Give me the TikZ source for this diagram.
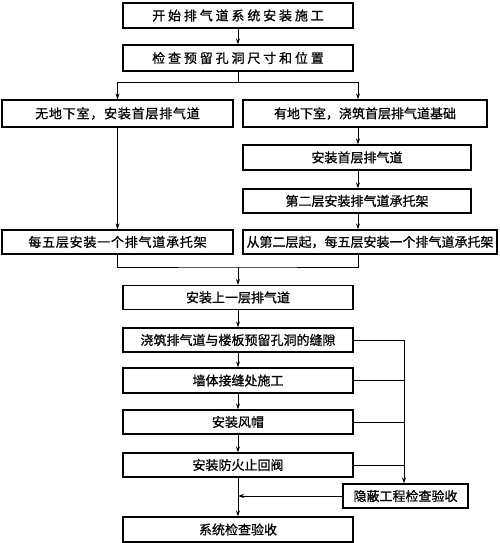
\documentclass[tikz,border=0pt]{standalone}
\usepackage{fontspec}
\newfontfamily\cjk[FakeBold=0.8]{Noto Sans CJK SC}
\newfontfamily\cjkw[LetterSpace=22,FakeBold=0.8]{Noto Sans CJK SC}
\newfontfamily\cjkm[LetterSpace=6,FakeBold=0.8]{Noto Sans CJK SC}
\usetikzlibrary{arrows.meta}
\begin{document}
\begin{tikzpicture}[x=1pt,y=-1pt,
  box/.style={draw,line width=1.3pt,inner sep=0pt,minimum height=24pt,font=\cjk\fontsize{13}{15}\selectfont},
  wbox/.style={box,font=\cjkw\fontsize{13}{15}\selectfont},
  mbox/.style={box,font=\cjkm\fontsize{13}{15}\selectfont},
  conn/.style={line width=0.8pt},
  arr/.style={conn,-{Stealth[length=6pt,width=4pt]}}]
\useasboundingbox (0,0) rectangle (500,543);
\node[wbox,minimum width=230pt,minimum height=25pt] (c1) at (238,15.5) {开始排气道系统安装施工};
\node[wbox,minimum width=230pt,minimum height=26pt] (c2) at (238,58) {检查预留孔洞尺寸和位置};
\node[mbox,minimum width=231pt,minimum height=27pt] (l1) at (117.5,113.5) {无地下室，安装首层排气道};
\node[box,minimum width=244pt,minimum height=27pt] (r1) at (365,113.5) {有地下室，浇筑首层排气道基础};
\node[box,minimum width=228pt,minimum height=25pt] (r2) at (357,157.5) {安装首层排气道};
\node[box,minimum width=228pt] (r3) at (357,201) {第二层安装排气道承托架};
\node[mbox,minimum width=231pt] (l4) at (117.5,242) {每五层安装一个排气道承托架};
\node[box,minimum width=254pt] (r4) at (370,242) {从第二层起，每五层安装一个排气道承托架};
\node[box,minimum width=230pt] (c3) at (238,297.5) {安装上一层排气道};
\node[box,minimum width=230pt] (c4) at (238,340) {浇筑排气道与楼板预留孔洞的缝隙};
\node[box,minimum width=230pt,minimum height=25pt] (c5) at (238,380.5) {墙体接缝处施工};
\node[box,minimum width=230pt] (c6) at (238,422) {安装风帽};
\node[box,minimum width=230pt] (c7) at (238,465) {安装防火止回阀};
\node[box,minimum width=125pt] (h) at (405.5,496) {隐蔽工程检查验收};
\node[box,minimum width=230pt,minimum height=25pt] (c8) at (238,529.5) {系统检查验收};
\coordinate (xr) at (358,0);
\coordinate (xv) at (404,0);
\draw[arr] (c1) -- (c2);
\draw[conn] (c2.south) -- ++(0,11) coordinate (b);
\draw[arr] (b) -| (l1.north);
\draw[arr] (b) -| (r1.north -| xr);
\draw[arr] (l1) -- (l4);
\draw[arr] (r1.south -| xr) -- (r2.north -| xr);
\draw[arr] (r2.south -| xr) -- (r3.north -| xr);
\draw[arr] (r3.south -| xr) -- (r4.north -| xr);
\coordinate (m) at (238,267);
\draw[conn] (l4.south) |- (m) -| (r4.south -| xr);
\draw[arr] (m) -- (c3.north);
\draw[arr] (c3) -- (c4);
\draw[arr] (c4) -- (c5);
\draw[arr] (c5) -- (c6);
\draw[arr] (c6) -- (c7);
\draw[arr] (c7) -- (c8);
\draw[arr] (c4.east) -| (h.north -| xv);
\draw[conn] (c5.east) -- (c5.east -| xv);
\draw[conn] (c6.east) -- (c6.east -| xv);
\draw[conn] (c7.east) -- (c7.east -| xv);
\draw[arr] (h.west) -- (h.west -| c8.north);
\end{tikzpicture}
\end{document}
